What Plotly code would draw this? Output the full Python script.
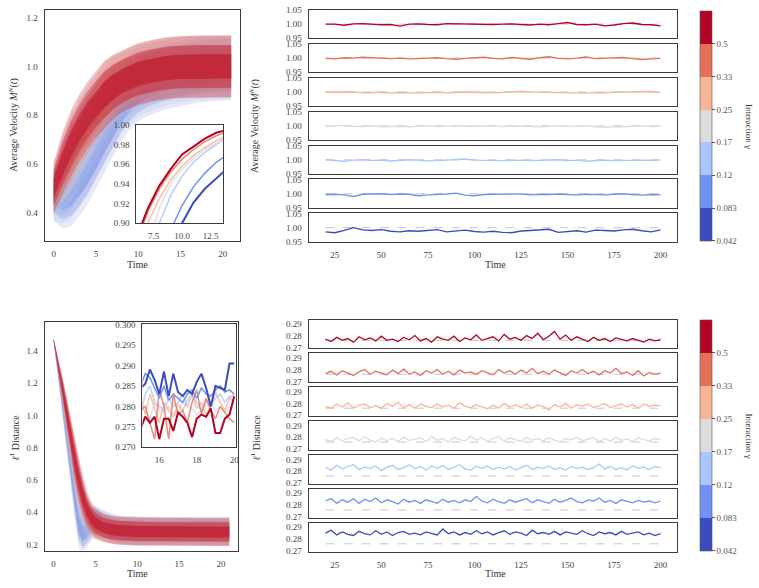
import plotly.graph_objects as go

W, H = 759, 588
FONT = "Liberation Serif"

# ---------------- categories / colours ----------------
GAMMA_LABELS = ["0.042", "0.083", "0.12", "0.17", "0.25", "0.33", "0.5"]
GAMMA_COLORS = ["#3b4cc0", "#7093f3", "#aac7fd", "#dddcdc", "#f7b497", "#e57058", "#b40426"]

# ---------------- top-left: average velocity, t = 0..21 ----------------
VEL_T = [0, 1, 2, 3, 4, 5, 6, 7, 8, 9, 10, 11, 12, 13, 14, 15, 16, 17, 18, 19, 20, 21]
VEL_G042 = [0.47, 0.46, 0.48, 0.52, 0.57, 0.63, 0.70, 0.76, 0.82, 0.865, 0.90, 0.921, 0.935, 0.946, 0.956, 0.964, 0.971, 0.977, 0.981, 0.984, 0.986, 0.987]
VEL_G083 = [0.47, 0.48, 0.51, 0.56, 0.62, 0.68, 0.74, 0.80, 0.852, 0.893, 0.918, 0.937, 0.951, 0.962, 0.971, 0.978, 0.984, 0.988, 0.991, 0.993, 0.994, 0.995]
VEL_G12 = [0.47, 0.50, 0.54, 0.60, 0.66, 0.72, 0.79, 0.85, 0.90, 0.928, 0.948, 0.962, 0.972, 0.980, 0.988, 0.992, 0.995, 0.997, 0.998, 0.998, 0.998, 0.998]
VEL_G17 = [0.48, 0.53, 0.58, 0.64, 0.70, 0.76, 0.82, 0.875, 0.915, 0.94, 0.955, 0.966, 0.975, 0.982, 0.988, 0.992, 0.995, 0.997, 0.998, 0.999, 0.999, 0.999]
VEL_G25 = [0.49, 0.56, 0.62, 0.68, 0.74, 0.80, 0.855, 0.90, 0.925, 0.944, 0.958, 0.969, 0.977, 0.984, 0.989, 0.993, 0.996, 0.998, 0.999, 1.0, 1.0, 1.0]
VEL_G33 = [0.50, 0.585, 0.66, 0.725, 0.78, 0.83, 0.88, 0.912, 0.935, 0.952, 0.965, 0.975, 0.983, 0.989, 0.994, 0.997, 0.999, 1.0, 1.0, 1.0, 1.0, 1.0]
VEL_G50 = [0.50, 0.60, 0.68, 0.745, 0.80, 0.845, 0.885, 0.915, 0.938, 0.955, 0.97, 0.978, 0.986, 0.992, 0.996, 0.998, 1.0, 1.0, 1.0, 1.0, 1.0, 1.0]
VEL_SPREAD = [0.09, 0.11, 0.12, 0.12, 0.12, 0.12, 0.12, 0.115, 0.11, 0.11, 0.11, 0.11, 0.11, 0.11, 0.11, 0.11, 0.11, 0.11, 0.11, 0.11, 0.11, 0.11]

# ---------------- bottom-left: l1 distance ----------------
L1_T = [0, 0.5, 1, 1.5, 2, 2.5, 3, 3.5, 4, 4.5, 5, 6, 7, 8, 10, 12, 14, 16, 18, 20, 21]
L1_G042 = [1.47, 1.29, 1.10, 0.90, 0.70, 0.50, 0.32, 0.27, 0.29, 0.33, 0.35, 0.33, 0.305, 0.293, 0.287, 0.285, 0.285, 0.285, 0.285, 0.285, 0.285]
L1_G083 = [1.47, 1.30, 1.12, 0.93, 0.74, 0.55, 0.38, 0.31, 0.31, 0.33, 0.34, 0.32, 0.30, 0.29, 0.285, 0.283, 0.283, 0.283, 0.283, 0.283, 0.283]
L1_G12 = [1.47, 1.31, 1.14, 0.96, 0.78, 0.61, 0.46, 0.37, 0.33, 0.33, 0.33, 0.31, 0.295, 0.288, 0.283, 0.281, 0.281, 0.281, 0.281, 0.281, 0.281]
L1_G17 = [1.47, 1.32, 1.16, 0.99, 0.82, 0.66, 0.51, 0.41, 0.355, 0.33, 0.32, 0.30, 0.29, 0.285, 0.282, 0.280, 0.280, 0.280, 0.280, 0.280, 0.280]
L1_G25 = [1.47, 1.33, 1.17, 1.01, 0.85, 0.69, 0.55, 0.45, 0.38, 0.345, 0.32, 0.30, 0.29, 0.285, 0.281, 0.280, 0.279, 0.279, 0.279, 0.279, 0.279]
L1_G33 = [1.47, 1.33, 1.19, 1.03, 0.87, 0.72, 0.58, 0.48, 0.40, 0.355, 0.325, 0.30, 0.29, 0.285, 0.281, 0.279, 0.278, 0.278, 0.278, 0.278, 0.278]
L1_G50 = [1.47, 1.34, 1.20, 1.05, 0.89, 0.74, 0.61, 0.50, 0.42, 0.37, 0.335, 0.305, 0.292, 0.286, 0.281, 0.279, 0.278, 0.277, 0.277, 0.277, 0.277]
L1_SPREAD = [0.01, 0.03, 0.05, 0.08, 0.10, 0.12, 0.12, 0.11, 0.095, 0.085, 0.08, 0.075, 0.075, 0.075, 0.075, 0.075, 0.075, 0.075, 0.075, 0.075, 0.075]

# ---------------- bottom-left inset (t = 15..20) ----------------
L1_IN_T = [15.0, 15.25, 15.5, 15.75, 16.0, 16.25, 16.5, 16.75, 17.0, 17.25, 17.5,
           17.75, 18.0, 18.25, 18.5, 18.75, 19.0, 19.25, 19.5, 19.75, 20.0]
L1_IN_G042 = [0.2845, 0.2855, 0.2890, 0.2865, 0.2830, 0.2885, 0.2825, 0.2880, 0.2835, 0.2825, 0.2840, 0.2830, 0.2860, 0.2880, 0.2845, 0.2800, 0.2850, 0.2845, 0.2840, 0.2905, 0.2905]
L1_IN_G083 = [0.2850, 0.2880, 0.2870, 0.2845, 0.2820, 0.2850, 0.2815, 0.2830, 0.2820, 0.2810, 0.2830, 0.2840, 0.2820, 0.2845, 0.2830, 0.2825, 0.2840, 0.2850, 0.2835, 0.2840, 0.2830]
L1_IN_G12 = [0.2780, 0.2830, 0.2850, 0.2810, 0.2800, 0.2790, 0.2820, 0.2800, 0.2810, 0.2830, 0.2800, 0.2830, 0.2810, 0.2790, 0.2815, 0.2800, 0.2820, 0.2830, 0.2810, 0.2825, 0.2805]
L1_IN_G17 = [0.2800, 0.2790, 0.2770, 0.2810, 0.2790, 0.2785, 0.2800, 0.2780, 0.2790, 0.2810, 0.2800, 0.2795, 0.2780, 0.2790, 0.2800, 0.2805, 0.2790, 0.2800, 0.2785, 0.2800, 0.2795]
L1_IN_G25 = [0.2820, 0.2780, 0.2830, 0.2795, 0.2760, 0.2810, 0.2790, 0.2775, 0.2805, 0.2790, 0.2815, 0.2830, 0.2795, 0.2810, 0.2780, 0.2800, 0.2835, 0.2810, 0.2790, 0.2820, 0.2830]
L1_IN_G33 = [0.2790, 0.2800, 0.2760, 0.2720, 0.2840, 0.2800, 0.2720, 0.2830, 0.2780, 0.2790, 0.2760, 0.2810, 0.2840, 0.2780, 0.2820, 0.2790, 0.2770, 0.2800, 0.2785, 0.2770, 0.2760]
L1_IN_G50 = [0.2745, 0.2775, 0.2760, 0.2775, 0.2720, 0.2770, 0.2770, 0.2740, 0.2785, 0.2775, 0.2760, 0.2725, 0.2770, 0.2780, 0.2775, 0.2795, 0.2735, 0.2735, 0.2770, 0.2780, 0.2825]

# ---------------- top-right: long-time velocity, t = 20..200 step 5 ----------------
VEL_LONG_T = list(range(20, 201, 5))
VEL_REF = 1.0
VEL_LONG_G50 = [1.000, 1.000, 0.996, 1.001, 1.002, 0.999, 0.998, 0.999, 0.993, 1.000,
                1.001, 0.999, 0.998, 1.002, 1.001, 1.000, 1.001, 0.998, 0.999, 1.000,
                1.001, 0.999, 0.997, 1.000, 0.998, 1.002, 1.006, 0.999, 0.998, 1.000,
                0.994, 0.997, 1.002, 1.004, 0.999, 0.998, 0.994]
VEL_LONG_G33 = [0.999, 0.997, 1.001, 1.000, 1.003, 1.002, 0.999, 0.998, 1.000, 0.997,
                0.998, 0.999, 1.001, 0.998, 0.996, 0.999, 1.000, 1.003, 0.999, 0.997,
                1.002, 0.998, 0.996, 1.001, 1.005, 0.999, 0.997, 1.000, 1.004, 0.998,
                0.999, 1.000, 1.002, 0.998, 0.995, 0.997, 0.999]
VEL_LONG_G25 = [0.999, 0.999, 1.001, 1.000, 0.997, 0.998, 0.999, 0.996, 0.998, 0.997,
                0.996, 0.998, 0.999, 0.997, 0.999, 1.000, 0.998, 0.999, 0.997, 0.999,
                1.000, 1.002, 1.000, 0.999, 0.998, 0.997, 0.996, 0.997, 0.996, 0.998,
                0.997, 0.999, 1.000, 1.001, 1.000, 1.002, 0.998]
VEL_LONG_G17 = [0.999, 1.000, 1.002, 0.999, 0.998, 1.000, 0.997, 0.998, 0.999, 0.997,
                0.999, 1.000, 0.998, 0.999, 1.001, 0.999, 0.998, 0.999, 1.000, 0.998,
                0.999, 1.000, 0.999, 0.997, 0.999, 1.000, 0.998, 0.999, 1.001, 0.997,
                0.995, 0.998, 0.997, 0.999, 1.000, 0.998, 0.999]
VEL_LONG_G12 = [1.000, 0.998, 0.995, 0.999, 1.000, 0.998, 0.999, 0.996, 0.998, 1.000,
                0.999, 0.996, 0.997, 0.999, 1.000, 1.003, 0.999, 0.998, 0.999, 0.997,
                0.998, 0.999, 0.997, 0.998, 0.999, 1.000, 0.997, 0.999, 0.995, 0.998,
                0.999, 0.997, 0.998, 1.000, 0.999, 0.998, 0.999]
VEL_LONG_G083 = [0.997, 0.998, 0.996, 0.990, 0.998, 0.999, 1.000, 0.997, 0.999, 0.998,
                 0.993, 0.996, 0.997, 0.999, 1.002, 0.995, 0.993, 0.997, 0.998, 0.999,
                 1.000, 0.999, 0.996, 0.998, 0.997, 0.999, 0.997, 0.996, 0.998, 0.997,
                 0.996, 0.998, 1.000, 0.997, 0.995, 0.997, 0.996]
VEL_LONG_G042 = [0.985, 0.982, 0.990, 1.000, 0.992, 0.990, 0.993, 0.987, 0.985, 0.989,
                 0.987, 0.991, 0.993, 0.985, 0.988, 0.991, 0.986, 0.984, 0.987, 0.983,
                 0.982, 0.988, 0.990, 0.992, 0.994, 0.983, 0.986, 0.989, 0.984, 0.991,
                 0.990, 0.988, 0.992, 0.994, 0.989, 0.985, 0.992]

# ---------------- bottom-right: long-time l1 distance, t = 20..200 step 3 ----------------
L1_LONG_T = list(range(20, 201, 3))
L1_REF = 0.276
L1_LONG_G50 = [0.2770, 0.2750, 0.2785, 0.2760, 0.2775, 0.2745, 0.2790, 0.2765, 0.2780, 0.2755,
               0.2795, 0.2760, 0.2770, 0.2750, 0.2785, 0.2765, 0.2800, 0.2755, 0.2775, 0.2745,
               0.2790, 0.2770, 0.2760, 0.2795, 0.2750, 0.2780, 0.2765, 0.2805, 0.2760, 0.2775,
               0.2790, 0.2755, 0.2810, 0.2770, 0.2785, 0.2760, 0.2800, 0.2775, 0.2820, 0.2765,
               0.2795, 0.2835, 0.2770, 0.2805, 0.2760, 0.2790, 0.2770, 0.2750, 0.2785, 0.2760,
               0.2775, 0.2750, 0.2780, 0.2765, 0.2755, 0.2775, 0.2760, 0.2745, 0.2770, 0.2755,
               0.2765]
L1_LONG_G33 = [0.2765, 0.2785, 0.2755, 0.2790, 0.2770, 0.2750, 0.2780, 0.2800, 0.2760, 0.2785,
               0.2770, 0.2755, 0.2795, 0.2765, 0.2805, 0.2760, 0.2780, 0.2750, 0.2790, 0.2770,
               0.2800, 0.2760, 0.2785, 0.2755, 0.2795, 0.2770, 0.2780, 0.2760, 0.2790, 0.2775,
               0.2755, 0.2800, 0.2770, 0.2790, 0.2760, 0.2795, 0.2770, 0.2810, 0.2765, 0.2785,
               0.2760, 0.2795, 0.2775, 0.2750, 0.2790, 0.2770, 0.2800, 0.2765, 0.2785, 0.2755,
               0.2790, 0.2770, 0.2810, 0.2765, 0.2780, 0.2750, 0.2790, 0.2745, 0.2775, 0.2760,
               0.2770]
L1_LONG_G25 = [0.2775, 0.2760, 0.2795, 0.2770, 0.2805, 0.2760, 0.2785, 0.2795, 0.2765, 0.2780,
               0.2760, 0.2800, 0.2775, 0.2810, 0.2765, 0.2790, 0.2760, 0.2795, 0.2775, 0.2765,
               0.2795, 0.2770, 0.2785, 0.2760, 0.2805, 0.2775, 0.2765, 0.2790, 0.2770, 0.2755,
               0.2785, 0.2760, 0.2800, 0.2770, 0.2790, 0.2765, 0.2795, 0.2760, 0.2785, 0.2775,
               0.2745, 0.2790, 0.2770, 0.2800, 0.2760, 0.2790, 0.2775, 0.2795, 0.2765, 0.2785,
               0.2800, 0.2765, 0.2780, 0.2795, 0.2770, 0.2790, 0.2760, 0.2795, 0.2775, 0.2785,
               0.2780]
L1_LONG_G17 = [0.2780, 0.2765, 0.2795, 0.2770, 0.2790, 0.2800, 0.2770, 0.2805, 0.2775, 0.2760,
               0.2795, 0.2770, 0.2790, 0.2765, 0.2800, 0.2775, 0.2785, 0.2795, 0.2765, 0.2805,
               0.2775, 0.2790, 0.2760, 0.2800, 0.2780, 0.2770, 0.2810, 0.2775, 0.2795, 0.2765,
               0.2790, 0.2805, 0.2770, 0.2795, 0.2780, 0.2765, 0.2800, 0.2775, 0.2790, 0.2770,
               0.2795, 0.2775, 0.2760, 0.2790, 0.2780, 0.2800, 0.2770, 0.2785, 0.2795, 0.2765,
               0.2790, 0.2770, 0.2800, 0.2775, 0.2785, 0.2765, 0.2795, 0.2780, 0.2770, 0.2790,
               0.2780]
L1_LONG_G12 = [0.2830, 0.2810, 0.2850, 0.2820, 0.2840, 0.2855, 0.2815, 0.2835, 0.2825, 0.2845,
               0.2805, 0.2835, 0.2850, 0.2815, 0.2830, 0.2855, 0.2820, 0.2840, 0.2810, 0.2845,
               0.2825, 0.2850, 0.2815, 0.2835, 0.2855, 0.2820, 0.2810, 0.2840, 0.2825, 0.2845,
               0.2815, 0.2835, 0.2820, 0.2840, 0.2810, 0.2830, 0.2850, 0.2815, 0.2835, 0.2825,
               0.2845, 0.2815, 0.2830, 0.2810, 0.2840, 0.2825, 0.2835, 0.2815, 0.2830, 0.2860,
               0.2820, 0.2840, 0.2815, 0.2830, 0.2810, 0.2845, 0.2825, 0.2835, 0.2815, 0.2840,
               0.2830]
L1_LONG_G083 = [0.2835, 0.2855, 0.2815, 0.2845, 0.2825, 0.2855, 0.2815, 0.2850, 0.2830, 0.2860,
                0.2820, 0.2845, 0.2830, 0.2810, 0.2850, 0.2825, 0.2840, 0.2815, 0.2845, 0.2830,
                0.2815, 0.2850, 0.2825, 0.2840, 0.2820, 0.2845, 0.2830, 0.2875, 0.2835, 0.2820,
                0.2850, 0.2830, 0.2815, 0.2845, 0.2825, 0.2840, 0.2855, 0.2820, 0.2845, 0.2830,
                0.2815, 0.2850, 0.2825, 0.2840, 0.2860, 0.2830, 0.2820, 0.2845, 0.2835, 0.2860,
                0.2825, 0.2840, 0.2815, 0.2845, 0.2830, 0.2820, 0.2840, 0.2825, 0.2835, 0.2820,
                0.2835]
L1_LONG_G042 = [0.2850, 0.2875, 0.2835, 0.2860, 0.2840, 0.2830, 0.2865, 0.2845, 0.2835, 0.2870,
                0.2840, 0.2860, 0.2830, 0.2855, 0.2865, 0.2840, 0.2850, 0.2835, 0.2860, 0.2845,
                0.2835, 0.2885, 0.2845, 0.2860, 0.2835, 0.2855, 0.2840, 0.2870, 0.2845, 0.2860,
                0.2835, 0.2855, 0.2870, 0.2840, 0.2860, 0.2850, 0.2830, 0.2875, 0.2845, 0.2855,
                0.2840, 0.2865, 0.2835, 0.2860, 0.2850, 0.2840, 0.2870, 0.2845, 0.2830, 0.2860,
                0.2845, 0.2855, 0.2835, 0.2865, 0.2840, 0.2850, 0.2860, 0.2835, 0.2850, 0.2830,
                0.2845]

# ---------------- tick labels ----------------
TIME_TICKS = [0, 5, 10, 15, 20]
LONG_TICKS = [25, 50, 75, 100, 125, 150, 175, 200]
VEL_YTICKS = [0.4, 0.6, 0.8, 1.0, 1.2]
VEL_YLABELS = ["0.4", "0.6", "0.8", "1.0", "1.2"]
VEL_IN_XTICKS = [7.5, 10.0, 12.5]
VEL_IN_XLABELS = ["7.5", "10.0", "12.5"]
VEL_IN_YTICKS = [0.90, 0.92, 0.94, 0.96, 0.98, 1.00]
VEL_IN_YLABELS = ["0.90", "0.92", "0.94", "0.96", "0.98", "1.00"]
L1_YTICKS = [0.2, 0.4, 0.6, 0.8, 1.0, 1.2, 1.4]
L1_YLABELS = ["0.2", "0.4", "0.6", "0.8", "1.0", "1.2", "1.4"]
L1_IN_XTICKS = [16, 18, 20]
L1_IN_YTICKS = [0.270, 0.275, 0.280, 0.285, 0.290, 0.295, 0.300]
L1_IN_YLABELS = ["0.270", "0.275", "0.280", "0.285", "0.290", "0.295", "0.300"]
VEL_LONG_YTICKS = [0.95, 1.00, 1.05]
VEL_LONG_YLABELS = ["0.95", "1.00", "1.05"]
L1_LONG_YTICKS = [0.27, 0.28, 0.29]
L1_LONG_YLABELS = ["0.27", "0.28", "0.29"]

VEL_SERIES = [VEL_G042, VEL_G083, VEL_G12, VEL_G17, VEL_G25, VEL_G33, VEL_G50]
L1_SERIES = [L1_G042, L1_G083, L1_G12, L1_G17, L1_G25, L1_G33, L1_G50]
L1_IN_SERIES = [L1_IN_G042, L1_IN_G083, L1_IN_G12, L1_IN_G17, L1_IN_G25, L1_IN_G33, L1_IN_G50]
VEL_LONG_SERIES = [VEL_LONG_G042, VEL_LONG_G083, VEL_LONG_G12, VEL_LONG_G17, VEL_LONG_G25, VEL_LONG_G33, VEL_LONG_G50]
L1_LONG_SERIES = [L1_LONG_G042, L1_LONG_G083, L1_LONG_G12, L1_LONG_G17, L1_LONG_G25, L1_LONG_G33, L1_LONG_G50]


def rgba(hexc, a):
    h = hexc.lstrip("#")
    return "rgba(%d,%d,%d,%.3f)" % (int(h[0:2], 16), int(h[2:4], 16), int(h[4:6], 16), a)


def ax_names(i):
    return ("x" if i == 1 else "x%d" % i, "y" if i == 1 else "y%d" % i)


fig = go.Figure()
layout = {}
TICKFONT = dict(family=FONT, size=9, color="#444444")


def add_axes(i, xl, xr, yt, yb, xrange, yrange, xtv, xtt, ytv, ytt, showx=True):
    xn, yn = ax_names(i)
    base = dict(showline=True, mirror=True, linecolor="#3c3c3c", linewidth=1.4,
                ticks="", showgrid=False, zeroline=False, tickfont=TICKFONT,
                ticklabelstandoff=4)
    layout["xaxis" if i == 1 else "xaxis%d" % i] = dict(
        base, domain=[xl / W, xr / W], range=xrange, anchor=yn,
        tickvals=xtv, ticktext=xtt, showticklabels=showx)
    layout["yaxis" if i == 1 else "yaxis%d" % i] = dict(
        base, domain=[1 - yb / H, 1 - yt / H], range=yrange, anchor=xn,
        tickvals=ytv, ticktext=ytt)


def band(i, t, mean, spread, k, color, alpha):
    xn, yn = ax_names(i)
    up = [m + k * s for m, s in zip(mean, spread)]
    lo = [m - k * s for m, s in zip(mean, spread)]
    fig.add_trace(go.Scatter(x=list(t) + list(t)[::-1], y=up + lo[::-1], fill="toself",
                             fillcolor=rgba(color, alpha), line=dict(width=0),
                             mode="lines", xaxis=xn, yaxis=yn, hoverinfo="skip",
                             showlegend=False))


def line(i, t, y, color, width=1.3, opacity=1.0, dash=None):
    xn, yn = ax_names(i)
    fig.add_trace(go.Scatter(x=t, y=y, mode="lines", opacity=opacity,
                             line=dict(color=color, width=width, dash=dash),
                             xaxis=xn, yaxis=yn, hoverinfo="skip", showlegend=False))


BAND_LEVELS = [(1.15, 0.12), (0.8, 0.18), (0.45, 0.26)]
RED_LEVELS = [(1.15, 0.22), (0.8, 0.32), (0.45, 0.45)]

# ---- axes 1: top-left main ----
add_axes(1, 45, 241, 5, 240, [-1.05, 22.05], [0.283, 1.232],
         TIME_TICKS, [str(v) for v in TIME_TICKS], VEL_YTICKS, VEL_YLABELS)
for g in range(7):
    for k, a in (RED_LEVELS if g >= 5 else BAND_LEVELS):
        band(1, VEL_T, VEL_SERIES[g], VEL_SPREAD, k, GAMMA_COLORS[g], a)

# ---- axes 2: top-left inset ----
add_axes(2, 137, 224, 122, 222, [6.0, 13.6], [0.90, 1.00],
         VEL_IN_XTICKS, VEL_IN_XLABELS, VEL_IN_YTICKS, VEL_IN_YLABELS)
for g in range(7):
    w = 2.0 if g in (0, 6) else 1.5
    line(2, VEL_T, VEL_SERIES[g], GAMMA_COLORS[g], width=w, opacity=1.0 if g in (0, 1, 6) else 0.85)

# ---- axes 3: bottom-left main ----
add_axes(3, 45, 239, 322, 555, [-1.05, 22.05], [0.163, 1.583],
         TIME_TICKS, [str(v) for v in TIME_TICKS], L1_YTICKS, L1_YLABELS)
for g in range(7):
    for k, a in (RED_LEVELS if g >= 5 else BAND_LEVELS):
        band(3, L1_T, L1_SERIES[g], L1_SPREAD, k, GAMMA_COLORS[g], a)

# ---- axes 4: bottom-left inset ----
add_axes(4, 143, 237, 325, 450, [15.1, 20.1], [0.270, 0.300],
         L1_IN_XTICKS, [str(v) for v in L1_IN_XTICKS], L1_IN_YTICKS, L1_IN_YLABELS)
for g in [3, 4, 2, 5, 1, 0, 6]:
    w = 2.0 if g in (0, 6) else 1.5
    line(4, L1_IN_T, L1_IN_SERIES[g], GAMMA_COLORS[g], width=w, opacity=1.0 if g in (0, 1, 6) else 0.8)

# ---- axes 5..11: top-right stacked panels (top = 0.5, bottom = 0.042) ----
for p in range(7):
    g = 6 - p
    i = 5 + p
    top = 5 + p * 34.5
    add_axes(i, 310, 680, top, top + 29, [11, 209], [0.949, 1.051],
             LONG_TICKS, [str(v) for v in LONG_TICKS], VEL_LONG_YTICKS, VEL_LONG_YLABELS,
             showx=(p == 6))
    line(i, [VEL_LONG_T[0], VEL_LONG_T[-1]], [VEL_REF, VEL_REF], "#c8c8c8", width=1.0, dash="dash")
    line(i, VEL_LONG_T, VEL_LONG_SERIES[g], GAMMA_COLORS[g], width=1.4)

# ---- axes 12..18: bottom-right stacked panels ----
for p in range(7):
    g = 6 - p
    i = 12 + p
    top = 320 + p * 34.5
    add_axes(i, 310, 680, top, top + 29, [11, 209], [0.2695, 0.2935],
             LONG_TICKS, [str(v) for v in LONG_TICKS], L1_LONG_YTICKS, L1_LONG_YLABELS,
             showx=(p == 6))
    line(i, [L1_LONG_T[0], L1_LONG_T[-1]], [L1_REF, L1_REF], "#c8c8c8", width=1.0, dash="dash")
    line(i, L1_LONG_T, L1_LONG_SERIES[g], GAMMA_COLORS[g], width=1.3)

# ---- colorbars ----
cscale = []
for k, c in enumerate(GAMMA_COLORS):
    cscale.append([k / 7, c])
    cscale.append([(k + 1) / 7, c])
for (yt, yb, i) in [(6, 240, 5), (320, 555, 12)]:
    xn, yn = ax_names(i)
    fig.add_trace(go.Scatter(
        x=[None], y=[None], mode="markers", xaxis=xn, yaxis=yn, hoverinfo="skip",
        showlegend=False,
        marker=dict(color=[0], colorscale=cscale, cmin=0, cmax=7, showscale=True, size=0.1,
                    colorbar=dict(x=703 / W, xanchor="left", thickness=12,
                                  len=(yb - yt) / H, lenmode="fraction",
                                  y=1 - (yt + yb) / 2 / H, yanchor="middle",
                                  ypad=0, xpad=0, outlinewidth=0.6, outlinecolor="#555555",
                                  ticks="outside", ticklen=3, tickcolor="#555555",
                                  tickvals=list(range(7)), ticktext=GAMMA_LABELS,
                                  tickfont=dict(family=FONT, size=9, color="#555555")))))

# ---- annotations (axis titles) ----
TITLE_FONT = dict(family=FONT, size=10, color="#333333")


def ann(text, px, py, angle=0, size=10):
    return dict(text=text, x=px / W, y=1 - py / H, xref="paper", yref="paper",
                showarrow=False, textangle=angle, xanchor="center", yanchor="middle",
                font=dict(TITLE_FONT, size=size))


VEL_YTITLE = "Average Velocity <i>M<sup>N</sup></i>(<i>t</i>)"
L1_YTITLE = "<i>ℓ</i><sup>1</sup> Distance"
annotations = [
    ann(VEL_YTITLE, 14, 122, -90),
    ann("Time", 138, 264),
    ann(VEL_YTITLE, 256, 123, -90),
    ann("Time", 497, 264),
    ann(L1_YTITLE, 14, 440, -90),
    ann("Time", 138, 578),
    ann(L1_YTITLE, 256, 440, -90),
    ann("Time", 497, 578),
    ann("Interaction γ", 752, 123, 90, 9),
    ann("Interaction γ", 752, 438, 90, 9),
]

fig.update_layout(
    width=W, height=H, margin=dict(l=0, r=0, t=0, b=0),
    paper_bgcolor="white", plot_bgcolor="white",
    showlegend=False, annotations=annotations, **layout)

fig.write_html("out.html")
